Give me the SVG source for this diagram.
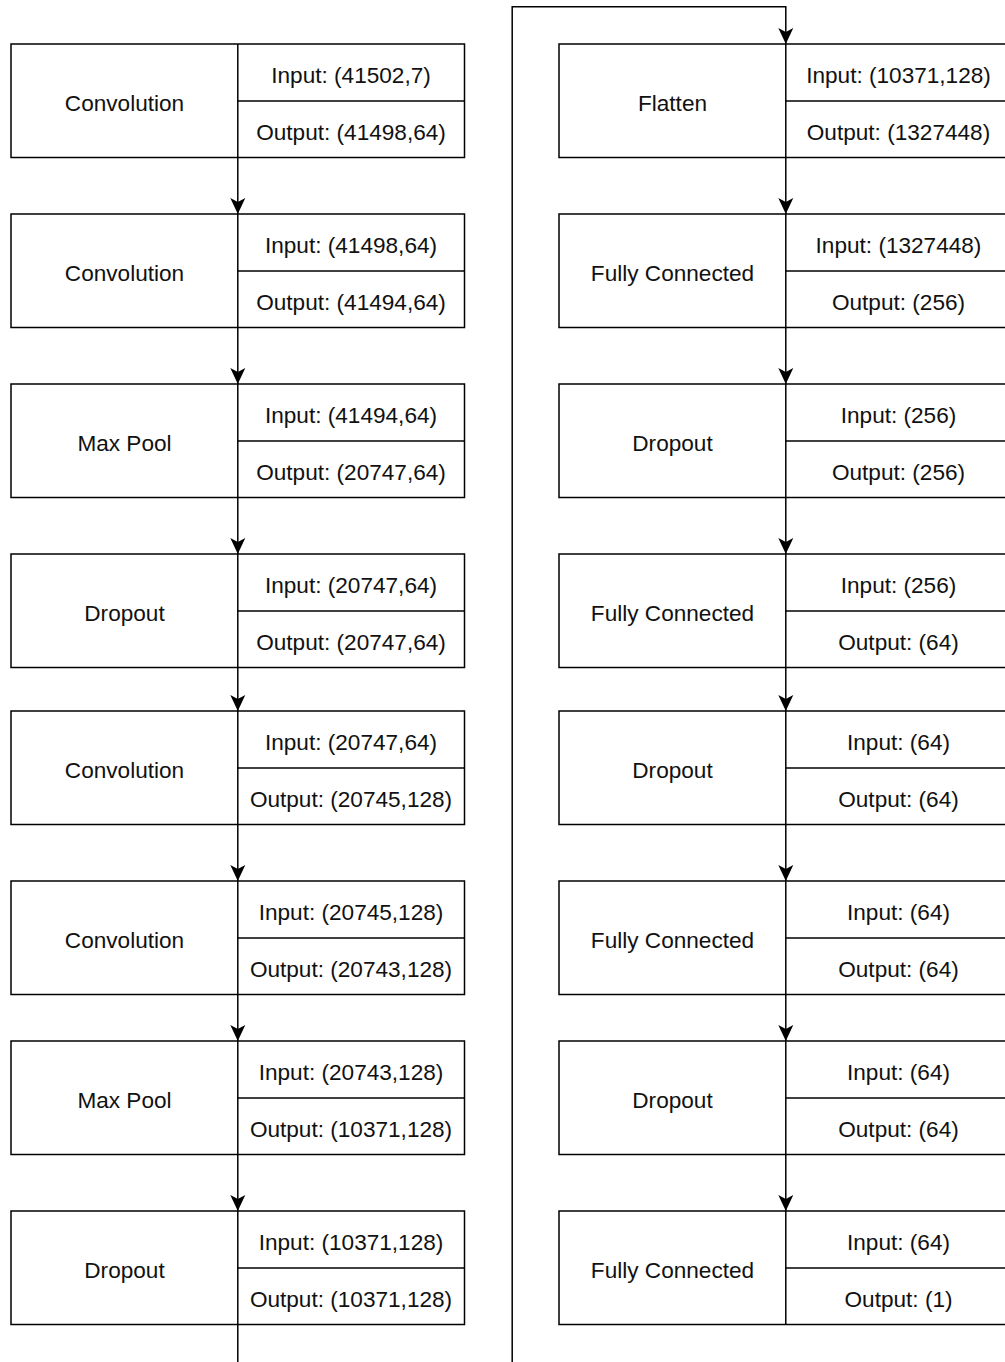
<svg xmlns="http://www.w3.org/2000/svg" width="1005" height="1362" viewBox="0 0 1005 1362">
  <style>
    .box { fill: #ffffff; stroke: #000000; stroke-width: 1.5; }
    .div { stroke: #000000; stroke-width: 1.5; fill: none; }
    .edge { stroke: #000000; stroke-width: 1.5; fill: none; }
    .lbl { font-family: "Liberation Sans", Arial, Helvetica, sans-serif; font-size: 22.6px; fill: #111111; text-anchor: middle; }
  </style>
  <defs>
    <marker id="arrow" viewBox="0 0 16 16" refX="16" refY="8" markerWidth="16" markerHeight="16" markerUnits="userSpaceOnUse" orient="auto">
      <path d="M16 8 L0 0.5 L4 8 L0 15.5 Z" fill="#000000"/>
    </marker>
  </defs>
  <rect width="1005" height="1362" fill="#ffffff"/>

  <!-- left column: feature extraction layers -->
  <g id="conv1">
    <rect class="box" x="11" y="44" width="453.5" height="113.5"/>
    <line class="div" x1="237.8" y1="44" x2="237.8" y2="157.5"/>
    <line class="div" x1="237.8" y1="101" x2="464.5" y2="101"/>
    <text class="lbl" x="124.5" y="111">Convolution</text>
    <text class="lbl" x="351" y="82.5">Input: (41502,7)</text>
    <text class="lbl" x="351" y="140">Output: (41498,64)</text>
  </g>
  <g id="conv2">
    <rect class="box" x="11" y="214" width="453.5" height="113.5"/>
    <line class="div" x1="237.8" y1="214" x2="237.8" y2="327.5"/>
    <line class="div" x1="237.8" y1="271" x2="464.5" y2="271"/>
    <text class="lbl" x="124.5" y="281">Convolution</text>
    <text class="lbl" x="351" y="252.5">Input: (41498,64)</text>
    <text class="lbl" x="351" y="310">Output: (41494,64)</text>
  </g>
  <g id="maxpool1">
    <rect class="box" x="11" y="384" width="453.5" height="113.5"/>
    <line class="div" x1="237.8" y1="384" x2="237.8" y2="497.5"/>
    <line class="div" x1="237.8" y1="441" x2="464.5" y2="441"/>
    <text class="lbl" x="124.5" y="451">Max Pool</text>
    <text class="lbl" x="351" y="422.5">Input: (41494,64)</text>
    <text class="lbl" x="351" y="480">Output: (20747,64)</text>
  </g>
  <g id="dropout1">
    <rect class="box" x="11" y="554" width="453.5" height="113.5"/>
    <line class="div" x1="237.8" y1="554" x2="237.8" y2="667.5"/>
    <line class="div" x1="237.8" y1="611" x2="464.5" y2="611"/>
    <text class="lbl" x="124.5" y="621">Dropout</text>
    <text class="lbl" x="351" y="592.5">Input: (20747,64)</text>
    <text class="lbl" x="351" y="650">Output: (20747,64)</text>
  </g>
  <g id="conv3">
    <rect class="box" x="11" y="711" width="453.5" height="113.5"/>
    <line class="div" x1="237.8" y1="711" x2="237.8" y2="824.5"/>
    <line class="div" x1="237.8" y1="768" x2="464.5" y2="768"/>
    <text class="lbl" x="124.5" y="778">Convolution</text>
    <text class="lbl" x="351" y="749.5">Input: (20747,64)</text>
    <text class="lbl" x="351" y="807">Output: (20745,128)</text>
  </g>
  <g id="conv4">
    <rect class="box" x="11" y="881" width="453.5" height="113.5"/>
    <line class="div" x1="237.8" y1="881" x2="237.8" y2="994.5"/>
    <line class="div" x1="237.8" y1="938" x2="464.5" y2="938"/>
    <text class="lbl" x="124.5" y="948">Convolution</text>
    <text class="lbl" x="351" y="919.5">Input: (20745,128)</text>
    <text class="lbl" x="351" y="977">Output: (20743,128)</text>
  </g>
  <g id="maxpool2">
    <rect class="box" x="11" y="1041" width="453.5" height="113.5"/>
    <line class="div" x1="237.8" y1="1041" x2="237.8" y2="1154.5"/>
    <line class="div" x1="237.8" y1="1098" x2="464.5" y2="1098"/>
    <text class="lbl" x="124.5" y="1108">Max Pool</text>
    <text class="lbl" x="351" y="1079.5">Input: (20743,128)</text>
    <text class="lbl" x="351" y="1137">Output: (10371,128)</text>
  </g>
  <g id="dropout2">
    <rect class="box" x="11" y="1211" width="453.5" height="113.5"/>
    <line class="div" x1="237.8" y1="1211" x2="237.8" y2="1324.5"/>
    <line class="div" x1="237.8" y1="1268" x2="464.5" y2="1268"/>
    <text class="lbl" x="124.5" y="1278">Dropout</text>
    <text class="lbl" x="351" y="1249.5">Input: (10371,128)</text>
    <text class="lbl" x="351" y="1307">Output: (10371,128)</text>
  </g>

  <!-- right column: dense head -->
  <g id="flatten">
    <rect class="box" x="559" y="44" width="453.5" height="113.5"/>
    <line class="div" x1="785.8" y1="44" x2="785.8" y2="157.5"/>
    <line class="div" x1="785.8" y1="101" x2="1012.5" y2="101"/>
    <text class="lbl" x="672.5" y="111">Flatten</text>
    <text class="lbl" x="898.5" y="82.5">Input: (10371,128)</text>
    <text class="lbl" x="898.5" y="140">Output: (1327448)</text>
  </g>
  <g id="fc1">
    <rect class="box" x="559" y="214" width="453.5" height="113.5"/>
    <line class="div" x1="785.8" y1="214" x2="785.8" y2="327.5"/>
    <line class="div" x1="785.8" y1="271" x2="1012.5" y2="271"/>
    <text class="lbl" x="672.5" y="281">Fully Connected</text>
    <text class="lbl" x="898.5" y="252.5">Input: (1327448)</text>
    <text class="lbl" x="898.5" y="310">Output: (256)</text>
  </g>
  <g id="dropout3">
    <rect class="box" x="559" y="384" width="453.5" height="113.5"/>
    <line class="div" x1="785.8" y1="384" x2="785.8" y2="497.5"/>
    <line class="div" x1="785.8" y1="441" x2="1012.5" y2="441"/>
    <text class="lbl" x="672.5" y="451">Dropout</text>
    <text class="lbl" x="898.5" y="422.5">Input: (256)</text>
    <text class="lbl" x="898.5" y="480">Output: (256)</text>
  </g>
  <g id="fc2">
    <rect class="box" x="559" y="554" width="453.5" height="113.5"/>
    <line class="div" x1="785.8" y1="554" x2="785.8" y2="667.5"/>
    <line class="div" x1="785.8" y1="611" x2="1012.5" y2="611"/>
    <text class="lbl" x="672.5" y="621">Fully Connected</text>
    <text class="lbl" x="898.5" y="592.5">Input: (256)</text>
    <text class="lbl" x="898.5" y="650">Output: (64)</text>
  </g>
  <g id="dropout4">
    <rect class="box" x="559" y="711" width="453.5" height="113.5"/>
    <line class="div" x1="785.8" y1="711" x2="785.8" y2="824.5"/>
    <line class="div" x1="785.8" y1="768" x2="1012.5" y2="768"/>
    <text class="lbl" x="672.5" y="778">Dropout</text>
    <text class="lbl" x="898.5" y="749.5">Input: (64)</text>
    <text class="lbl" x="898.5" y="807">Output: (64)</text>
  </g>
  <g id="fc3">
    <rect class="box" x="559" y="881" width="453.5" height="113.5"/>
    <line class="div" x1="785.8" y1="881" x2="785.8" y2="994.5"/>
    <line class="div" x1="785.8" y1="938" x2="1012.5" y2="938"/>
    <text class="lbl" x="672.5" y="948">Fully Connected</text>
    <text class="lbl" x="898.5" y="919.5">Input: (64)</text>
    <text class="lbl" x="898.5" y="977">Output: (64)</text>
  </g>
  <g id="dropout5">
    <rect class="box" x="559" y="1041" width="453.5" height="113.5"/>
    <line class="div" x1="785.8" y1="1041" x2="785.8" y2="1154.5"/>
    <line class="div" x1="785.8" y1="1098" x2="1012.5" y2="1098"/>
    <text class="lbl" x="672.5" y="1108">Dropout</text>
    <text class="lbl" x="898.5" y="1079.5">Input: (64)</text>
    <text class="lbl" x="898.5" y="1137">Output: (64)</text>
  </g>
  <g id="fc4">
    <rect class="box" x="559" y="1211" width="453.5" height="113.5"/>
    <line class="div" x1="785.8" y1="1211" x2="785.8" y2="1324.5"/>
    <line class="div" x1="785.8" y1="1268" x2="1012.5" y2="1268"/>
    <text class="lbl" x="672.5" y="1278">Fully Connected</text>
    <text class="lbl" x="898.5" y="1249.5">Input: (64)</text>
    <text class="lbl" x="898.5" y="1307">Output: (1)</text>
  </g>

  <!-- connectors -->
  <g id="connectors">
    <line class="edge" x1="237.8" y1="157.5" x2="237.8" y2="214" marker-end="url(#arrow)"/>
    <line class="edge" x1="237.8" y1="327.5" x2="237.8" y2="384" marker-end="url(#arrow)"/>
    <line class="edge" x1="237.8" y1="497.5" x2="237.8" y2="554" marker-end="url(#arrow)"/>
    <line class="edge" x1="237.8" y1="667.5" x2="237.8" y2="711" marker-end="url(#arrow)"/>
    <line class="edge" x1="237.8" y1="824.5" x2="237.8" y2="881" marker-end="url(#arrow)"/>
    <line class="edge" x1="237.8" y1="994.5" x2="237.8" y2="1041" marker-end="url(#arrow)"/>
    <line class="edge" x1="237.8" y1="1154.5" x2="237.8" y2="1211" marker-end="url(#arrow)"/>
    <!-- wrap from the bottom of the left column to the top of the right column -->
    <path class="edge" d="M237.8 1324.5 V1375 H512.2 V6.8 H785.8 V44" marker-end="url(#arrow)"/>
    <line class="edge" x1="785.8" y1="157.5" x2="785.8" y2="214" marker-end="url(#arrow)"/>
    <line class="edge" x1="785.8" y1="327.5" x2="785.8" y2="384" marker-end="url(#arrow)"/>
    <line class="edge" x1="785.8" y1="497.5" x2="785.8" y2="554" marker-end="url(#arrow)"/>
    <line class="edge" x1="785.8" y1="667.5" x2="785.8" y2="711" marker-end="url(#arrow)"/>
    <line class="edge" x1="785.8" y1="824.5" x2="785.8" y2="881" marker-end="url(#arrow)"/>
    <line class="edge" x1="785.8" y1="994.5" x2="785.8" y2="1041" marker-end="url(#arrow)"/>
    <line class="edge" x1="785.8" y1="1154.5" x2="785.8" y2="1211" marker-end="url(#arrow)"/>
  </g>
</svg>
